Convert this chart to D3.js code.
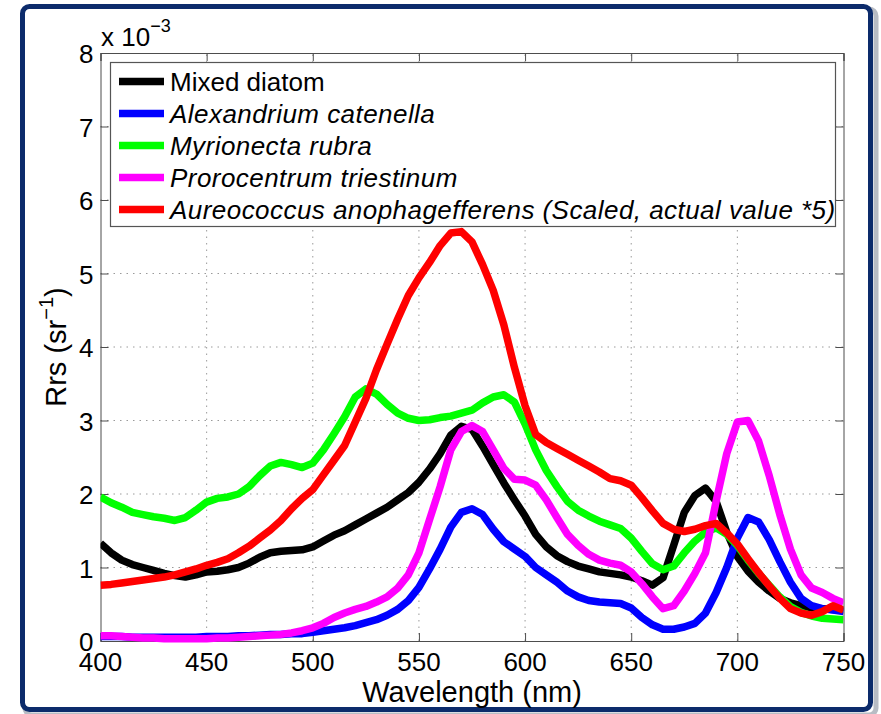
<!DOCTYPE html>
<html><head><meta charset="utf-8">
<script src="https://cdn.jsdelivr.net/npm/d3@7"></script>
<style>
body{margin:0;background:#fff}
svg{display:block}
text{font-family:"Liberation Sans",Arial,Helvetica,sans-serif;fill:#000}
</style>
</head><body>
<svg id="chart" width="881" height="714"></svg>
<script>
// ---- data (Rrs in units of 1e-3 sr^-1) ----
const wavelengths = [400,405,410,415,420,425,430,435,440,445,450,455,460,465,470,475,480,485,490,495,
  500,505,510,515,520,525,530,535,540,545,550,555,560,565,570,575,580,585,590,595,
  600,605,610,615,620,625,630,635,640,645,650,655,660,665,670,675,680,685,690,695,
  700,705,710,715,720,725,730,735,740,745,750];

const mixedDiatom = [1.33,1.2,1.1,1.04,1.0,0.96,0.92,0.89,0.87,0.9,0.94,0.95,0.97,1.0,1.06,1.14,1.2,1.22,1.23,1.24,
  1.28,1.36,1.44,1.5,1.58,1.66,1.74,1.82,1.92,2.02,2.16,2.34,2.55,2.8,2.92,2.88,2.65,2.4,2.15,1.92,
  1.7,1.45,1.28,1.16,1.08,1.02,0.98,0.94,0.92,0.9,0.87,0.82,0.76,0.86,1.3,1.75,1.98,2.08,1.9,1.48,
  1.15,0.95,0.8,0.68,0.58,0.52,0.48,0.45,0.44,0.43,0.42];

const alexandrium = [0.06,0.06,0.06,0.05,0.05,0.05,0.05,0.05,0.05,0.05,0.06,0.06,0.06,0.07,0.07,0.08,0.09,0.09,0.1,0.1,
  0.12,0.14,0.16,0.18,0.21,0.25,0.29,0.35,0.43,0.55,0.73,0.98,1.25,1.55,1.75,1.8,1.72,1.52,1.35,1.25,
  1.15,1.0,0.9,0.8,0.68,0.6,0.55,0.53,0.52,0.51,0.45,0.32,0.22,0.16,0.16,0.19,0.24,0.38,0.66,1.0,
  1.4,1.68,1.62,1.38,1.08,0.8,0.58,0.48,0.44,0.42,0.4];

const myrionecta = [1.96,1.88,1.82,1.75,1.72,1.69,1.67,1.64,1.68,1.78,1.89,1.94,1.96,2.0,2.1,2.25,2.38,2.43,2.4,2.36,
  2.42,2.6,2.82,3.05,3.32,3.43,3.36,3.22,3.1,3.03,3.0,3.01,3.04,3.06,3.1,3.14,3.24,3.32,3.35,3.25,
  2.95,2.6,2.32,2.1,1.9,1.78,1.7,1.63,1.58,1.53,1.4,1.22,1.05,0.97,1.02,1.2,1.36,1.48,1.54,1.45,
  1.3,1.1,0.92,0.76,0.6,0.47,0.39,0.34,0.31,0.3,0.29];

const prorocentrum = [0.07,0.07,0.06,0.05,0.04,0.04,0.03,0.03,0.03,0.03,0.03,0.04,0.04,0.05,0.06,0.07,0.08,0.09,0.11,0.14,
  0.18,0.24,0.32,0.38,0.43,0.47,0.53,0.6,0.72,0.9,1.2,1.65,2.1,2.6,2.85,2.93,2.85,2.6,2.35,2.2,
  2.19,2.12,1.92,1.68,1.45,1.3,1.18,1.1,1.06,1.03,0.94,0.78,0.6,0.44,0.48,0.68,0.92,1.2,1.9,2.55,
  2.98,3.0,2.72,2.25,1.72,1.25,0.9,0.72,0.66,0.58,0.52];

const aureococcus = [0.76,0.77,0.79,0.81,0.83,0.85,0.87,0.9,0.94,0.98,1.03,1.07,1.12,1.2,1.29,1.4,1.51,1.64,1.8,1.94,
  2.06,2.26,2.46,2.66,2.98,3.3,3.69,4.04,4.38,4.7,4.94,5.15,5.38,5.55,5.57,5.43,5.12,4.77,4.3,3.72,
  3.2,2.81,2.7,2.62,2.54,2.46,2.38,2.3,2.21,2.18,2.12,1.95,1.77,1.6,1.52,1.49,1.52,1.57,1.6,1.47,
  1.32,1.12,0.93,0.75,0.58,0.44,0.38,0.35,0.4,0.48,0.42];

const seriesNames = ["Mixed diatom","Alexandrium catenella","Myrionecta rubra","Prorocentrum triestinum",
  "Aureococcus anophagefferens (Scaled, actual value *5)"];
const seriesItalic = [false,true,true,true,true];
const seriesColors = ["#000000","#0000ff","#00ff00","#ff00ff","#ff0000"];
const seriesValues = [mixedDiatom, alexandrium, myrionecta, prorocentrum, aureococcus];

const xTicks = [400,450,500,550,600,650,700,750];
const yTicks = [0,1,2,3,4,5,6,7,8];

// ---- drawing ----
const svg = d3.select("#chart");
const FONT = 26;

// outer frame with shadow
svg.append("rect").attr("x",25).attr("y",9).attr("width",851).attr("height",706)
  .attr("rx",7).attr("fill","none").attr("stroke","#b8bcc4").attr("stroke-width",5);
svg.append("rect").attr("x",22.5).attr("y",6.5).attr("width",848).attr("height",703)
  .attr("rx",7).attr("fill","#fff").attr("stroke","#0c2b6b").attr("stroke-width",5);

const x = d3.scaleLinear().domain([400,750]).range([100.5,843.5]);
const y = d3.scaleLinear().domain([0,8]).range([641,53]);

// grid
const g = svg.append("g");
g.selectAll(".vg").data(xTicks.slice(1,-1)).join("line")
  .attr("x1",d=>x(d)).attr("x2",d=>x(d)).attr("y1",y(0)).attr("y2",y(8))
  .attr("stroke","#9a9a9a").attr("stroke-width",1).attr("stroke-dasharray","1.5,5");
g.selectAll(".hg").data(yTicks.slice(1,-1)).join("line")
  .attr("x1",x(400)).attr("x2",x(750)).attr("y1",d=>y(d)).attr("y2",d=>y(d))
  .attr("stroke","#9a9a9a").attr("stroke-width",1).attr("stroke-dasharray","1.5,5");

// axes with inward ticks on all sides
const tickLen = 8;
const axColor = "#4d4d4d";
function styleAxis(a){a.select(".domain").attr("stroke",axColor);a.selectAll("line").attr("stroke",axColor);}
svg.append("g").attr("transform",`translate(0,${y(0)})`)
  .call(d3.axisBottom(x).tickValues(xTicks).tickSize(-tickLen).tickFormat("")).call(styleAxis);
svg.append("g").attr("transform",`translate(0,${y(8)})`)
  .call(d3.axisTop(x).tickValues(xTicks).tickSize(-tickLen).tickFormat("")).call(styleAxis);
svg.append("g").attr("transform",`translate(${x(400)},0)`)
  .call(d3.axisLeft(y).tickValues(yTicks).tickSize(-tickLen).tickFormat("")).call(styleAxis);
svg.append("g").attr("transform",`translate(${x(750)},0)`)
  .call(d3.axisRight(y).tickValues(yTicks).tickSize(-tickLen).tickFormat("")).call(styleAxis);

// tick labels
svg.selectAll(".xl").data(xTicks).join("text")
  .attr("x",d=>x(d)).attr("y",y(0)+30).attr("text-anchor","middle")
  .attr("font-size",FONT).text(d=>d);
svg.selectAll(".yl").data(yTicks).join("text")
  .attr("x",x(400)-7).attr("y",d=>y(d)+10).attr("text-anchor","end")
  .attr("font-size",FONT).text(d=>d);

// exponent label
const ex = svg.append("text").attr("x",101).attr("y",46).attr("font-size",FONT);
ex.append("tspan").text("x 10");
ex.append("tspan").attr("dy",-14).attr("font-size",18).text("\u22123");

// axis titles
svg.append("text").attr("x",(x(400)+x(750))/2).attr("y",702).attr("text-anchor","middle")
  .attr("font-size",29).text("Wavelength (nm)");
const yt = svg.append("text").attr("transform",`translate(66,${(y(0)+y(8))/2}) rotate(-90)`)
  .attr("text-anchor","middle").attr("font-size",29);
yt.append("tspan").text("Rrs (sr");
yt.append("tspan").attr("dy",-13).attr("font-size",20).text("\u22121");
yt.append("tspan").attr("dy",13).text(")");

// lines
const line = d3.line().x((d,i)=>x(wavelengths[i])).y(d=>y(d));
svg.append("clipPath").attr("id","plotclip").append("rect")
  .attr("x",x(400)).attr("y",y(8)).attr("width",x(750)-x(400)).attr("height",y(0)-y(8)+4);
svg.append("g").attr("clip-path","url(#plotclip)")
  .selectAll("path").data(seriesValues).join("path")
  .attr("d",d=>line(d)).attr("fill","none")
  .attr("stroke",(d,i)=>seriesColors[i]).attr("stroke-width",7.5)
  .attr("stroke-linejoin","round").attr("stroke-linecap","butt");

// legend
const lg = svg.append("g");
lg.append("rect").attr("x",110.5).attr("y",62.5).attr("width",725).attr("height",164)
  .attr("fill","#fff").attr("stroke","#555").attr("stroke-width",1.2);
seriesNames.forEach((name,i)=>{
  const cy = 81.5 + i*32;
  lg.append("line").attr("x1",119).attr("x2",164).attr("y1",cy).attr("y2",cy)
    .attr("stroke",seriesColors[i]).attr("stroke-width",7.5);
  lg.append("text").attr("x",170).attr("y",cy+9).attr("font-size",FONT)
    .attr("font-style",seriesItalic[i]?"italic":"normal")
    .attr("letter-spacing",seriesItalic[i]?0.45:0).text(name);
});
</script>
</body></html>
